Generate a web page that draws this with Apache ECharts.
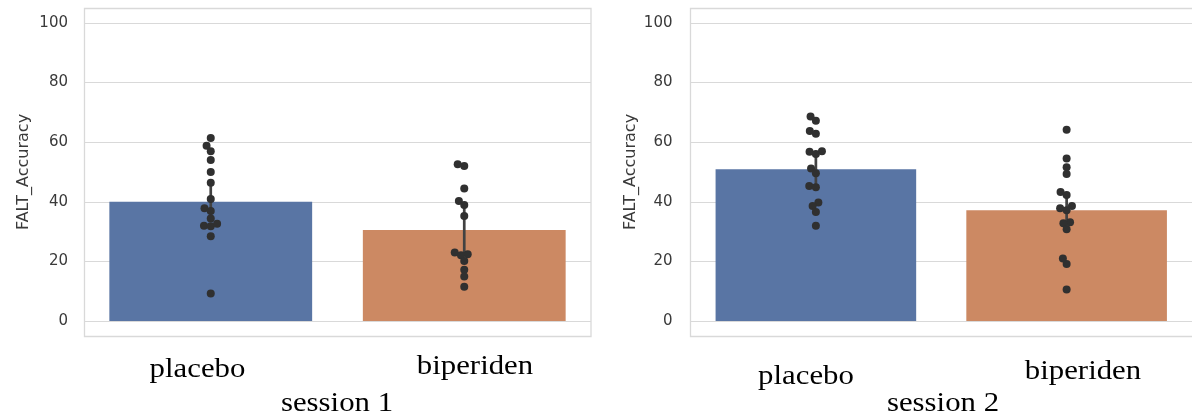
<!DOCTYPE html>
<html>
<head>
<meta charset="utf-8">
<script src="https://cdn.jsdelivr.net/npm/echarts@6/dist/echarts.min.js"></script>
<style>
  html, body { margin: 0; padding: 0; background: #ffffff; }
  #chart { width: 1192px; height: 416px; }
</style>
</head>
<body>
<div id="chart"></div>
<script>
// ---------------- data ----------------
const categories = ['placebo', 'biperiden'];
const sessionTitles = ['session 1', 'session 2'];
const yAxisName = 'FALT_Accuracy';
const yTicks = [0, 20, 40, 60, 80, 100];

// bar means
const meanS1 = [40.0, 30.5];
const meanS2 = [50.9, 37.2];
// confidence intervals [low, high]
const ciS1 = [[33.5, 46.5], [22.0, 39.0]];
const ciS2 = [[45.5, 56.5], [31.0, 43.0]];

// individual points
const s1Placebo = [61.4, 58.8, 57.0, 54.0, 50.0, 46.4, 40.9, 37.8, 36.9, 34.4, 32.0, 31.8, 32.6, 28.4, 9.2];
const s1Biperiden = [52.6, 52.0, 44.5, 40.3, 38.9, 35.2, 23.0, 22.4, 22.1, 20.1, 17.2, 14.9, 11.5];
const s2Placebo = [68.6, 67.2, 63.8, 62.8, 57.0, 56.8, 56.0, 51.2, 49.6, 45.3, 44.9, 39.8, 38.6, 36.6, 32.0];
const s2Biperiden = [64.2, 54.5, 51.6, 49.3, 43.3, 42.3, 38.6, 37.8, 37.2, 33.1, 32.8, 30.8, 21.0, 19.1, 10.6];

// ---------------- style / layout ----------------
const barColors = ['#5975a4', '#cc8963'];
const gridCol = '#d9d9d9';
const tickColor = '#3a3a3a';
const G = [
  { left: 84, top: 23, width: 507, height: 298, boxL: 84.5, boxR: 591, labMargin: 16 },
  { left: 690.5, top: 23, width: 505.5, height: 298, boxL: 690.5, boxR: 1196, labMargin: 18 }
];
const boxTop = 8.5, boxBottom = 336.5;
const D = 6.8; // swarm spacing in px

function swarmOffsets(values, pxPerY) {
  const order = values.map((v, i) => i).sort((a, b) => values[a] - values[b]);
  const placed = [];
  const offs = new Array(values.length);
  for (const i of order) {
    const y = values[i] * pxPerY;
    const near = placed.filter(p => Math.abs(p.y - y) < D);
    const cands = [0];
    near.forEach(p => {
      const dx = Math.sqrt(D * D - (p.y - y) * (p.y - y));
      cands.push(p.x - dx, p.x + dx);
    });
    cands.sort((a, b) => (Math.abs(a) - Math.abs(b)) || (a - b));
    const chosen = cands.find(c => near.every(p => (p.x - c) * (p.x - c) + (p.y - y) * (p.y - y) >= D * D - 1e-6));
    offs[i] = chosen;
    placed.push({ x: chosen, y: y });
  }
  return offs;
}

function swarmData(groups, g) {
  const pxPerY = g.height / 100;
  const pxPerCat = g.width / categories.length;
  const out = [];
  groups.forEach((vals, ci) => {
    const offs = swarmOffsets(vals, pxPerY);
    vals.forEach((v, k) => out.push([ci + offs[k] / pxPerCat, v]));
  });
  return out;
}

function errRender(params, api) {
  const p1 = api.coord([api.value(0), api.value(1)]);
  const p2 = api.coord([api.value(0), api.value(2)]);
  return {
    type: 'line',
    shape: { x1: p1[0], y1: p1[1], x2: p2[0], y2: p2[1] },
    style: { stroke: '#424242', lineWidth: 2.7 }
  };
}

const means = [meanS1, meanS2];
const cis = [ciS1, ciS2];
const points = [[s1Placebo, s1Biperiden], [s2Placebo, s2Biperiden]];

const grids = [], xAxes = [], yAxes = [], series = [], graphics = [];
G.forEach((g, k) => {
  grids.push({ left: g.left, top: g.top, width: g.width, height: g.height, containLabel: false });
  xAxes.push({
    type: 'category', gridIndex: k, data: categories,
    axisLine: { show: false }, axisTick: { show: false }, axisLabel: { show: false }, splitLine: { show: false }
  });
  yAxes.push({
    type: 'value', gridIndex: k, min: 0, max: 100, interval: 20,
    name: yAxisName, nameLocation: 'middle', nameGap: 52, nameRotate: 90,
    nameTextStyle: { fontFamily: 'DejaVu Sans', fontSize: 16, color: tickColor },
    axisLine: { show: false }, axisTick: { show: false },
    axisLabel: { fontFamily: 'DejaVu Sans', fontSize: 15, color: tickColor, margin: g.labMargin,
      formatter: v => (yTicks.indexOf(v) >= 0 ? String(v) : '') },
    splitLine: { show: true, lineStyle: { color: gridCol, width: 1.2 } }
  });
});
// hidden value x axes for swarm offsets
G.forEach((g, k) => {
  xAxes.push({ type: 'value', gridIndex: k, min: -0.5, max: 1.5, show: false, splitLine: { show: false } });
});

G.forEach((g, k) => {
  series.push({
    type: 'bar', xAxisIndex: k, yAxisIndex: k, barWidth: '80%', z: 2,
    data: means[k].map((v, i) => ({ value: v, itemStyle: { color: barColors[i] } })),
    silent: true
  });
  series.push({
    type: 'custom', xAxisIndex: k, yAxisIndex: k, z: 3, renderItem: errRender,
    data: cis[k].map((c, i) => [i, c[0], c[1]]), silent: true
  });
  series.push({
    type: 'scatter', xAxisIndex: 2 + k, yAxisIndex: k, z: 4, symbolSize: 8,
    itemStyle: { color: '#303030', opacity: 1 },
    data: swarmData(points[k], g), silent: true
  });
  // frame
  graphics.push({
    type: 'rect', z: 1, silent: true,
    shape: { x: g.boxL, y: boxTop, width: g.boxR - g.boxL, height: boxBottom - boxTop },
    style: { fill: 'none', stroke: gridCol, lineWidth: 1.3 }
  });
});

// serif labels below each panel
const labelPos = [
  { cats: [[197.5, 370], [475, 367]], title: [337, 404] },
  { cats: [[806, 377], [1083, 372]], title: [943, 404] }
];
function serifText(txt, x, y) {
  return {
    type: 'text', x: x, y: y, scaleX: 1.1, scaleY: 1, silent: true,
    style: { text: txt, x: 0, y: 0, align: 'center', verticalAlign: 'middle',
      font: '28px "Liberation Serif", "Times New Roman", serif', fill: '#000000' }
  };
}
labelPos.forEach((lp, k) => {
  lp.cats.forEach((p, i) => graphics.push(serifText(categories[i], p[0], p[1])));
  graphics.push(serifText(sessionTitles[k], lp.title[0], lp.title[1]));
});

const chart = echarts.init(document.getElementById('chart'), null, { renderer: 'canvas' });
chart.setOption({
  backgroundColor: '#ffffff',
  animation: false,
  grid: grids,
  xAxis: xAxes,
  yAxis: yAxes,
  series: series,
  graphic: graphics
});
</script>
</body>
</html>
